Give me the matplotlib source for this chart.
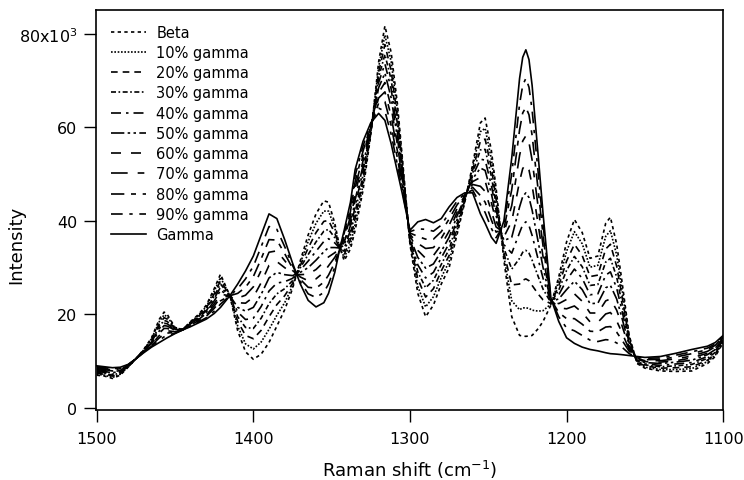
import matplotlib
matplotlib.use("Agg")
import matplotlib.pyplot as plt

# Raman shift grid (cm^-1)
shift = [1500, 1495, 1490, 1485, 1480, 1475, 1470, 1465, 1460, 1457,
         1455, 1450, 1445, 1440, 1435, 1430, 1425, 1421, 1415, 1410,
         1405, 1400, 1395, 1390, 1385, 1380, 1375, 1370, 1365, 1360,
         1355, 1352, 1348, 1345, 1342, 1338, 1335, 1330, 1325, 1320,
         1316, 1312, 1308, 1305, 1300, 1295, 1290, 1285, 1280, 1275,
         1270, 1265, 1260, 1255, 1252, 1248, 1245, 1240, 1235, 1230,
         1228, 1226, 1224, 1222, 1218, 1215, 1210, 1205, 1200, 1195,
         1190, 1185, 1180, 1175, 1172, 1168, 1165, 1160, 1155, 1150,
         1140, 1130, 1120, 1110, 1105, 1100]

# intensities, in thousands of counts
beta = [7.0, 6.8, 6.3, 7.0, 8.7, 10.5, 12.5, 15.0, 19.0, 20.5,
        20.0, 17.2, 16.8, 18.5, 20.0, 22.0, 25.5, 28.6, 24.0, 16.5,
        12.0, 10.4, 11.5, 14.0, 17.5, 21.0, 25.5, 31.5, 37.0, 41.5,
        44.3, 44.0, 39.5, 34.5, 31.5, 34.0, 38.0, 46.5, 58.5, 74.0,
        81.7, 76.0, 65.0, 54.0, 35.0, 24.5, 19.5, 22.0, 26.5, 30.0,
        37.0, 44.0, 52.0, 61.0, 62.0, 55.0, 47.0, 31.5, 19.5, 15.5,
        15.4, 15.3, 15.4, 15.5, 17.0, 18.5, 22.0, 28.0, 35.5, 40.3,
        37.5, 32.0, 32.5, 39.5, 40.8, 35.0, 28.0, 15.5, 9.5, 8.5,
        7.9, 7.8, 7.9, 9.5, 11.0, 14.0]
g10 = [7.2, 7.0, 6.5, 7.2, 8.8, 10.5, 12.4, 14.8, 18.5, 19.9,
       19.5, 17.1, 16.8, 18.4, 19.8, 21.7, 25.0, 27.9, 24.0, 17.5,
       13.7, 12.6, 14.1, 16.8, 19.8, 22.5, 26.1, 31.0, 35.6, 39.5,
       42.1, 42.1, 38.5, 34.4, 32.2, 35.0, 39.3, 47.6, 58.8, 72.9,
       79.7, 74.1, 63.6, 53.2, 35.3, 26.0, 21.6, 23.8, 27.9, 31.3,
       37.8, 44.2, 51.4, 59.1, 59.8, 53.2, 45.8, 32.4, 22.9, 21.0,
       21.4, 21.4, 21.3, 20.9, 20.7, 20.8, 22.2, 27.1, 33.5, 37.7,
       35.1, 30.1, 30.5, 36.7, 37.9, 32.7, 26.3, 15.1, 9.7, 8.7,
       8.2, 8.2, 8.4, 9.9, 11.3, 14.2]
g20 = [7.4, 7.2, 6.8, 7.3, 8.8, 10.5, 12.4, 14.6, 18.0, 19.3,
       19.0, 16.9, 16.8, 18.3, 19.6, 21.4, 24.4, 27.2, 24.0, 18.5,
       15.5, 14.8, 16.6, 19.5, 22.1, 24.0, 26.6, 30.5, 34.2, 37.5,
       39.9, 40.1, 37.4, 34.4, 32.8, 36.0, 40.6, 48.6, 59.0, 71.8,
       77.7, 72.1, 62.1, 52.4, 35.6, 27.6, 23.7, 25.5, 29.3, 32.6,
       38.6, 44.4, 50.8, 57.1, 57.5, 51.3, 44.6, 33.2, 26.3, 26.5,
       27.3, 27.6, 27.2, 26.2, 24.3, 23.1, 22.3, 26.1, 31.4, 35.0,
       32.6, 28.1, 28.4, 34.0, 35.0, 30.3, 24.7, 14.6, 9.8, 9.0,
       8.5, 8.6, 8.8, 10.2, 11.6, 14.3]
g30 = [7.6, 7.4, 7.0, 7.5, 8.9, 10.5, 12.3, 14.4, 17.5, 18.7,
       18.5, 16.8, 16.8, 18.2, 19.5, 21.1, 23.9, 26.5, 24.0, 19.5,
       17.2, 17.0, 19.2, 22.3, 24.4, 25.5, 27.2, 30.0, 32.8, 35.5,
       37.8, 38.2, 36.4, 34.3, 33.5, 37.0, 41.9, 49.7, 59.3, 70.7,
       75.6, 70.2, 60.7, 51.6, 35.9, 29.1, 25.7, 27.3, 30.7, 33.9,
       39.4, 44.6, 50.2, 55.2, 55.3, 49.5, 43.5, 34.1, 29.7, 32.0,
       33.3, 33.7, 33.1, 31.6, 28.0, 25.4, 22.5, 25.2, 29.4, 32.4,
       30.2, 26.2, 26.4, 31.2, 32.0, 28.0, 23.0, 14.2, 10.0, 9.2,
       8.8, 9.0, 9.3, 10.6, 11.9, 14.5]
g40 = [7.8, 7.6, 7.2, 7.7, 8.9, 10.5, 12.2, 14.2, 17.0, 18.1,
       18.0, 16.7, 16.8, 18.1, 19.3, 20.8, 23.4, 25.8, 24.0, 20.5,
       18.9, 19.2, 21.7, 25.0, 26.7, 27.0, 27.7, 29.5, 31.4, 33.5,
       35.6, 36.2, 35.3, 34.2, 34.1, 38.0, 43.2, 50.7, 59.5, 69.6,
       73.6, 68.2, 59.2, 50.8, 36.2, 30.6, 27.8, 29.0, 32.1, 35.2,
       40.2, 44.8, 49.6, 53.2, 53.0, 47.6, 42.3, 34.9, 33.1, 37.5,
       39.2, 39.8, 39.0, 36.9, 31.6, 27.7, 22.6, 24.2, 27.3, 29.7,
       27.7, 24.2, 24.4, 28.4, 29.1, 25.6, 21.4, 13.8, 10.1, 9.4,
       9.1, 9.4, 9.7, 11.0, 12.2, 14.6]
g50 = [8.0, 7.8, 7.5, 7.9, 9.0, 10.5, 12.2, 14.0, 16.5, 17.6,
       17.5, 16.6, 16.8, 18.0, 19.1, 20.5, 22.9, 25.1, 24.0, 21.5,
       20.7, 21.5, 24.3, 27.8, 29.0, 28.5, 28.3, 29.0, 30.0, 31.6,
       33.4, 34.3, 34.3, 34.2, 34.8, 39.0, 44.5, 51.8, 59.8, 68.5,
       71.6, 66.3, 57.8, 50.0, 36.5, 32.2, 29.9, 30.8, 33.5, 36.5,
       41.0, 45.0, 49.0, 51.3, 50.8, 45.8, 41.1, 35.8, 36.5, 43.0,
       45.2, 46.0, 45.0, 42.3, 35.3, 30.0, 22.8, 23.3, 25.3, 27.1,
       25.3, 22.3, 22.4, 25.7, 26.2, 23.3, 19.7, 13.4, 10.3, 9.7,
       9.5, 9.8, 10.2, 11.4, 12.5, 14.8]
g60 = [8.2, 8.0, 7.7, 8.0, 9.1, 10.5, 12.1, 13.8, 16.0, 17.0,
       17.0, 16.4, 16.7, 17.8, 18.9, 20.2, 22.3, 24.3, 24.0, 22.5,
       22.4, 23.7, 26.8, 30.5, 31.3, 30.0, 28.8, 28.5, 28.6, 29.6,
       31.2, 32.3, 33.2, 34.1, 35.4, 40.0, 45.8, 52.8, 60.0, 67.4,
       69.6, 64.3, 56.3, 49.2, 36.8, 33.7, 32.0, 32.6, 34.9, 37.8,
       41.8, 45.2, 48.4, 49.3, 48.5, 43.9, 39.9, 36.6, 39.9, 48.5,
       51.2, 52.1, 50.9, 47.6, 38.9, 32.3, 22.9, 22.3, 23.2, 24.4,
       22.8, 20.3, 20.3, 22.9, 23.3, 20.9, 18.0, 12.9, 10.4, 9.9,
       9.8, 10.1, 10.7, 11.7, 12.8, 14.9]
g70 = [8.4, 8.2, 7.9, 8.2, 9.1, 10.5, 12.0, 13.6, 15.5, 16.4,
       16.5, 16.3, 16.7, 17.7, 18.7, 19.9, 21.8, 23.6, 24.0, 23.5,
       24.1, 25.9, 29.4, 33.3, 33.6, 31.5, 29.4, 28.0, 27.2, 27.6,
       29.0, 30.4, 32.2, 34.0, 36.1, 41.0, 47.1, 53.9, 60.3, 66.3,
       67.6, 62.4, 54.9, 48.4, 37.1, 35.2, 34.1, 34.3, 36.3, 39.1,
       42.6, 45.4, 47.8, 47.4, 46.3, 42.1, 38.7, 37.5, 43.3, 54.0,
       57.1, 58.2, 56.8, 53.0, 42.6, 34.6, 23.1, 21.4, 21.2, 21.8,
       20.4, 18.4, 18.3, 20.1, 20.4, 18.6, 16.4, 12.5, 10.6, 10.1,
       10.1, 10.5, 11.1, 12.1, 13.1, 15.1]
g80 = [8.6, 8.4, 8.1, 8.4, 9.2, 10.5, 11.9, 13.4, 15.0, 15.8,
       16.0, 16.2, 16.7, 17.6, 18.6, 19.6, 21.3, 22.9, 24.0, 24.5,
       25.8, 28.1, 31.9, 36.0, 35.9, 33.0, 29.9, 27.5, 25.8, 25.6,
       26.9, 28.4, 31.1, 33.9, 36.7, 42.0, 48.4, 54.9, 60.5, 65.2,
       65.5, 60.4, 53.4, 47.6, 37.4, 36.7, 36.1, 36.1, 37.7, 40.4,
       43.4, 45.6, 47.2, 45.4, 44.0, 40.2, 37.6, 38.3, 46.7, 59.5,
       63.1, 64.3, 62.7, 58.3, 46.2, 36.9, 23.2, 20.4, 19.1, 19.1,
       17.9, 16.4, 16.3, 17.3, 17.4, 16.2, 14.7, 12.1, 10.7, 10.3,
       10.4, 10.9, 11.6, 12.5, 13.4, 15.2]
g90 = [8.8, 8.6, 8.4, 8.5, 9.2, 10.5, 11.9, 13.2, 14.5, 15.2,
       15.5, 16.0, 16.7, 17.5, 18.4, 19.3, 20.7, 22.2, 24.0, 25.5,
       27.6, 30.3, 34.5, 38.8, 38.2, 34.5, 30.5, 27.0, 24.4, 23.6,
       24.7, 26.5, 30.1, 33.9, 37.4, 43.0, 49.7, 56.0, 60.8, 64.1,
       63.5, 58.5, 52.0, 46.8, 37.7, 38.3, 38.2, 37.8, 39.1, 41.7,
       44.2, 45.8, 46.6, 43.5, 41.8, 38.4, 36.4, 39.2, 50.1, 65.0,
       69.0, 70.5, 68.6, 63.7, 49.9, 39.2, 23.4, 19.5, 17.1, 16.5,
       15.5, 14.5, 14.2, 14.6, 14.5, 13.9, 13.1, 11.6, 10.9, 10.6,
       10.7, 11.3, 12.0, 12.8, 13.7, 15.4]
gamma = [9.0, 8.8, 8.6, 8.7, 9.3, 10.5, 11.8, 13.0, 14.0, 14.6,
         15.0, 15.9, 16.7, 17.4, 18.2, 19.0, 20.2, 21.5, 24.0, 26.5,
         29.3, 32.5, 37.0, 41.5, 40.5, 36.0, 31.0, 26.5, 23.0, 21.6,
         22.5, 24.5, 29.0, 33.8, 38.0, 44.0, 51.0, 57.0, 61.0, 63.0,
         61.5, 56.5, 50.5, 46.0, 38.0, 39.8, 40.3, 39.6, 40.5, 43.0,
         45.0, 46.0, 46.0, 41.5, 39.5, 36.5, 35.2, 40.0, 53.5, 70.5,
         75.0, 76.6, 74.5, 69.0, 53.5, 41.5, 23.5, 18.5, 15.0, 13.8,
         13.0, 12.5, 12.2, 11.8, 11.6, 11.5, 11.4, 11.2, 11.0, 10.8,
         11.0, 11.7, 12.5, 13.2, 14.0, 15.5]

series = [
    ("Beta", beta, (0, (2, 2))),
    ("10% gamma", g10, (0, (1, 1))),
    ("20% gamma", g20, (0, (4, 3))),
    ("30% gamma", g30, (0, (3, 1.5, 1, 1.5))),
    ("40% gamma", g40, (0, (6, 3, 1.5, 3))),
    ("50% gamma", g50, (0, (8, 2, 1.5, 2, 1.5, 2))),
    ("60% gamma", g60, (0, (6, 6))),
    ("70% gamma", g70, (0, (10, 6, 4, 6))),
    ("80% gamma", g80, (0, (8, 4, 3, 4))),
    ("90% gamma", g90, (0, (7, 4, 2, 4))),
    ("Gamma", gamma, "-"),
]

plt.rcParams["font.family"] = ["DejaVu Sans"]

fig = plt.figure(figsize=(7.44, 4.81), dpi=100)
ax = fig.add_axes([0.129, 0.146, 0.843, 0.831])

for name, vals, ls in series:
    ax.plot(shift, vals, color="black", lw=1.2, ls=ls, label=name)

ax.set_xlim(1500.5, 1100)
ax.set_ylim(-0.4, 85.1)
ax.set_xticks([1500, 1400, 1300, 1200, 1100])
ax.set_yticks([0, 20, 40, 60, 80])
ax.set_yticklabels(["0", "20", "40", "60", "80x10$^3$"])
ax.tick_params(direction="out", length=8.5, width=1, labelsize=11.5)
ax.tick_params(axis="x", pad=7)
ax.tick_params(axis="y", pad=5)
for sp in ax.spines.values():
    sp.set_linewidth(1.2)

ax.set_xlabel("Raman shift (cm$^{-1}$)", fontsize=13, labelpad=8)
ax.set_ylabel("Intensity", fontsize=13)
ax.yaxis.set_label_coords(-0.112, 0.415)

ax.legend(loc="upper left", frameon=False, fontsize=10.5, handlelength=2.4,
          labelspacing=0.36, borderaxespad=0.6, handletextpad=0.75)

fig.savefig("out.png", dpi=100)
plt.close(fig)
